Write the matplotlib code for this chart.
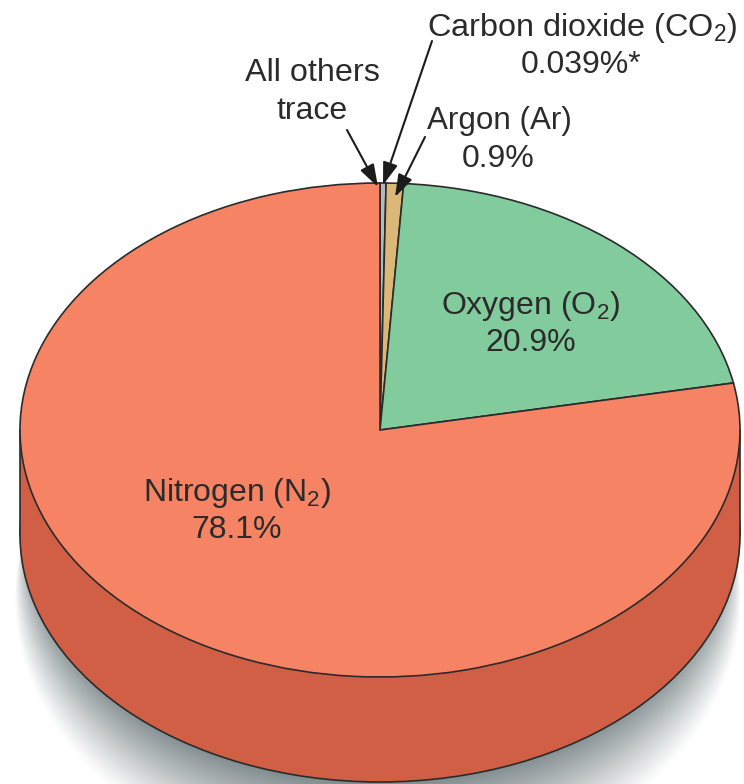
import matplotlib
matplotlib.use("Agg")
import matplotlib.pyplot as plt
from matplotlib.patches import Ellipse, Rectangle

plt.rcParams['font.family'] = ['Liberation Sans', 'DejaVu Sans']
plt.rcParams['mathtext.fontset'] = 'custom'
plt.rcParams['mathtext.rm'] = 'Liberation Sans'

### data (slivers are drawn wider than their label says)
gases = ['All others + CO2', 'Argon', 'Oxygen', 'Nitrogen']
shares = [0.27, 0.78, 20.9, 78.05]
top_colors = ['#b4b8ba', '#dcb878', '#82cb9c', '#f68364']
wall_color = '#d05f45'
shadow_color = (0.43, 0.48, 0.49)
ink = '#2b2b2b'

# pixel geometry of the drawing
CX, CY = 380, 430
RX, RY = 360, 247
DEPTH = 105 / RY
W, H = 744, 784

fig = plt.figure(figsize=(W / 100, H / 100), dpi=100)
ax = fig.add_axes([0, 0, 1, 1])

# soft shadow under the disc: stack of ellipses, outermost first
n = 80
for i in range(n, -1, -1):
    t = i / n
    mix = (1 - t) ** 1.15
    col = tuple(1 - mix * (1 - c) for c in shadow_color)
    cy = 525 + 75 * t
    ax.add_patch(Ellipse(((378 - CX) / RX, (CY - cy) / RY),
                         2 * (345 + 18 * t) / RX, 2 * (245 + 35 * t) / RY,
                         fc=col, ec='none', zorder=1))

edge = dict(edgecolor=ink, linewidth=1.2)

# side wall
w_wedges, _ = ax.pie([100], colors=[wall_color], center=(0, -DEPTH), radius=1,
                     wedgeprops=edge)
for w in w_wedges:
    w.set_zorder(2)
ax.add_patch(Rectangle((-1, -DEPTH), 2, DEPTH, fc=wall_color, ec='none', zorder=3))
ax.plot([-1, -1], [0, -DEPTH], color=ink, lw=1.2, zorder=4)
ax.plot([1, 1], [0, -DEPTH], color=ink, lw=1.2, zorder=4)

# top face
t_wedges, _ = ax.pie(shares, colors=top_colors, startangle=90, counterclock=False,
                     radius=1, wedgeprops=edge)
for w in t_wedges:
    w.set_zorder(5)

ax.set_aspect('auto')
ax.set_xlim(-CX / RX, (W - CX) / RX)
ax.set_ylim((CY - H) / RY, CY / RY)
ax.axis('off')

# overlay in pixel coords for the labels and arrows
ov = fig.add_axes([0, 0, 1, 1], zorder=10)
ov.set_xlim(0, W)
ov.set_ylim(H, 0)
ov.axis('off')
ov.patch.set_alpha(0)

fs = 23
labels = [
    (582, 28, r'Carbon dioxide (CO$\mathrm{_2}$)', 23.3),
    (581, 65, '0.039%*', fs),
    (312, 73, 'All others', 23.3),
    (312, 111, 'trace', fs),
    (499, 121, 'Argon (Ar)', 22.6),
    (498, 159, '0.9%', fs),
    (531, 306, r'Oxygen (O$\mathrm{_2}$)', fs),
    (531, 343, '20.9%', fs),
    (237, 493, r'Nitrogen (N$\mathrm{_2}$)', fs),
    (237, 530, '78.1%', fs),
]
for x, y, s, size in labels:
    ov.text(x, y, s, ha='center', va='center', fontsize=size, color=ink)

arrows = [
    ((347, 130), (378, 187)),
    ((432, 41), (383, 185)),
    ((425, 137), (395, 197)),
]
for start, tip in arrows:
    ov.annotate('', xy=tip, xytext=start,
                arrowprops=dict(arrowstyle='-|>,head_length=1.05,head_width=0.35',
                                mutation_scale=13, color='#1c1c1c', lw=1.5,
                                shrinkA=0, shrinkB=0))

fig.savefig('out.png', dpi=100)
